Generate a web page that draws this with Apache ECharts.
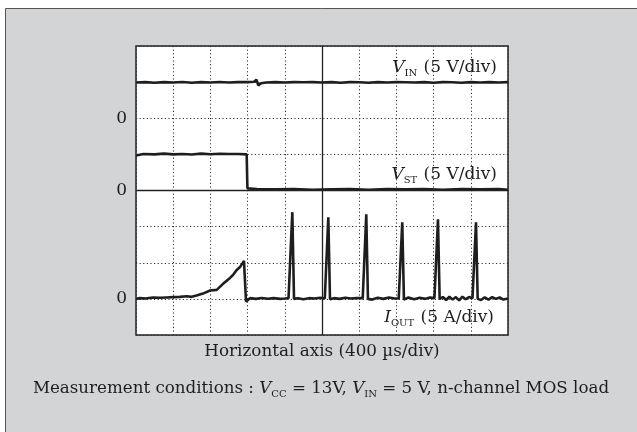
<!DOCTYPE html>
<html>
<head>
<meta charset="utf-8">
<script src="https://cdn.jsdelivr.net/npm/echarts@6/dist/echarts.min.js"></script>
<style>
html,body{margin:0;padding:0;background:#fff;}
#c{width:637px;height:432px;}
</style>
</head>
<body>
<div id="c"></div>
<script>
// Time axis (µs), 400 µs/div, 10 divisions
const timeTicks = [0, 400, 800, 1200, 1600, 2000, 2400, 2800, 3200, 3600, 4000];

// V_IN (V)
const vinT = [0, 100, 200, 300, 400, 500, 600, 700, 800, 900, 1000, 1100, 1200, 1270, 1295, 1315, 1345, 1400, 1500, 1600, 1700, 1800, 1900, 2000, 2100, 2200, 2300, 2400, 2500, 2600, 2700, 2800, 2900, 3000, 3100, 3200, 3300, 3400, 3500, 3600, 3700, 3800, 3900, 4000];
const vinV = [4.95, 5.0, 4.92, 5.0, 4.95, 5.02, 4.92, 5.0, 4.95, 5.02, 4.95, 5.0, 5.0, 5.05, 5.35, 4.55, 4.85, 4.95, 5.0, 4.95, 5.0, 4.98, 5.0, 4.95, 5.0, 4.92, 5.0, 4.98, 4.92, 5.0, 4.95, 5.0, 4.98, 4.95, 5.0, 4.92, 5.0, 4.98, 4.92, 5.0, 4.95, 5.0, 4.95, 5.0];

// V_ST (V)
const vstT = [0, 80, 200, 300, 400, 500, 600, 700, 800, 900, 1000, 1100, 1190, 1198, 1210, 1300, 1500, 1700, 1900, 2100, 2300, 2500, 2700, 2900, 3100, 3300, 3500, 3700, 3900, 4000];
const vstV = [4.85, 5.05, 5.0, 5.1, 5.0, 5.05, 4.98, 5.1, 5.02, 5.08, 5.05, 5.05, 5.0, 0.3, 0.15, 0.2, 0.15, 0.2, 0.1, 0.15, 0.2, 0.1, 0.2, 0.15, 0.2, 0.1, 0.2, 0.15, 0.2, 0.1];

// I_OUT (A)
const ioutT = [0, 43, 100, 183, 260, 330, 398, 470, 545, 599, 660, 720, 796, 868, 936, 1011, 1043, 1083, 1118, 1161, 1183, 1226, 1290, 1350, 1420, 1480, 1550, 1600, 1640, 1681, 1699, 1740, 1800, 1860, 1920, 1980, 2030, 2068, 2086, 2130, 2190, 2250, 2310, 2370, 2438, 2476, 2494, 2540, 2600, 2660, 2720, 2780, 2825, 2863, 2881, 2930, 2990, 3050, 3110, 3160, 3209, 3247, 3265, 3300, 3335, 3370, 3405, 3440, 3475, 3510, 3545, 3580, 3618, 3656, 3674, 3710, 3750, 3790, 3830, 3870, 3910, 3950, 4000];
const ioutV = [0.0, 0.1, 0.05, 0.18, 0.15, 0.2, 0.24, 0.28, 0.37, 0.28, 0.5, 0.73, 1.15, 1.25, 2.08, 2.9, 3.3, 4.0, 4.4, 5.26, -0.37, 0.1, 0.0, 0.12, 0.02, 0.1, 0.0, 0.05, 0.1, 12.0, 0.0, 0.1, -0.05, 0.1, 0.05, 0.15, 0.05, 11.3, -0.05, 0.1, 0.0, 0.15, 0.05, 0.1, 0.1, 11.7, 0.0, -0.1, 0.15, 0.0, 0.2, 0.05, 0.05, 10.6, -0.1, 0.2, -0.05, 0.15, 0.0, 0.2, 0.1, 11.0, 0.0, 0.25, -0.15, 0.3, -0.1, 0.25, -0.2, 0.3, -0.05, 0.25, 0.1, 10.6, 0.0, -0.15, 0.2, -0.1, 0.25, 0.0, 0.2, -0.1, 0.05];

const serif = 'DejaVu Serif';
const ink = '#1e1e1e';

function pairs(t, v) { return t.map((x, i) => [x, v[i]]); }

const chart = echarts.init(document.getElementById('c'), null, {renderer: 'canvas'});

function zeroOnly(v) { return v === 0 ? '0' : ''; }

function label(text, sub, rest, x, y) {
  return {
    type: 'text', x: x, y: y, z: 100,
    style: {
      text: '{v|' + text + '}{s|' + sub + '}{n|' + rest + '}',
      align: 'right', verticalAlign: 'middle',
      fill: ink,
      rich: {
        v: {fontFamily: serif, fontSize: 17, fontStyle: 'italic', fill: ink, lineHeight: 20},
        s: {fontFamily: serif, fontSize: 10, fill: ink, verticalAlign: 'bottom', lineHeight: 12, padding: [0, 1, 0, 0]},
        n: {fontFamily: serif, fontSize: 17, fill: ink, lineHeight: 20}
      }
    }
  };
}

const lineStyle = {color: ink, width: 2.6};

chart.setOption({
  animation: false,
  backgroundColor: '#ffffff',
  graphic: [
    {type: 'rect', z: -10, shape: {x: 5.5, y: 8.5, width: 640, height: 430},
     style: {fill: '#d3d4d6', stroke: '#555', lineWidth: 1}},
    label('V', 'IN', ' (5 V/div)', 497, 68),
    label('V', 'ST', ' (5 V/div)', 497, 175),
    label('I', 'OUT', ' (5 A/div)', 494, 318),
    {type: 'text', x: 322, y: 352, z: 100,
     style: {text: 'Horizontal axis (400 µs/div)', font: '16.8px "DejaVu Serif"', fill: ink, align: 'center', verticalAlign: 'middle'}},
    {type: 'text', x: 321, y: 389, z: 100,
     style: {text: 'Measurement conditions : {v|V}{s|CC}{n| = 13V, }{v|V}{s|IN}{n| = 5 V, n-channel MOS load}',
       align: 'center', verticalAlign: 'middle', fill: ink,
       rich: {
         v: {fontFamily: serif, fontSize: 16.7, fontStyle: 'italic', fill: ink, lineHeight: 20},
         s: {fontFamily: serif, fontSize: 10, fill: ink, verticalAlign: 'bottom', lineHeight: 12},
         n: {fontFamily: serif, fontSize: 16.7, fill: ink, lineHeight: 20}
       },
       fontFamily: serif, fontSize: 16.7}}
  ],
  grid: {left: 136, top: 46, width: 372, height: 289, show: true,
         backgroundColor: '#ffffff', borderColor: '#222', borderWidth: 1.5, z: 0},
  xAxis: {
    type: 'value', min: timeTicks[0], max: timeTicks[timeTicks.length - 1], interval: 400,
    axisLine: {show: false}, axisTick: {show: false}, axisLabel: {show: false},
    splitLine: {show: true, lineStyle: {color: '#333', width: 1, type: [1.2, 2.4]}}
  },
  yAxis: [
    {type: 'value', min: -30, max: 10, interval: 5, position: 'left',
     axisLine: {show: false}, axisTick: {show: false}, splitLine: {show: false},
     axisLabel: {formatter: zeroOnly, fontFamily: serif, fontSize: 17, color: ink, margin: 9}},
    {type: 'value', min: -20, max: 20, interval: 5, position: 'left',
     axisLine: {show: false}, axisTick: {show: false},
     splitLine: {show: true, lineStyle: {color: '#333', width: 1, type: [1.2, 2.4]}},
     axisLabel: {formatter: zeroOnly, fontFamily: serif, fontSize: 17, color: ink, margin: 9}},
    {type: 'value', min: -5, max: 35, interval: 5, position: 'left',
     axisLine: {show: false}, axisTick: {show: false}, splitLine: {show: false},
     axisLabel: {formatter: zeroOnly, fontFamily: serif, fontSize: 17, color: ink, margin: 9}}
  ],
  series: [
    {name: 'VST', type: 'line', yAxisIndex: 1, data: pairs(vstT, vstV), showSymbol: false,
     lineStyle: lineStyle, z: 3,
     markLine: {silent: true, symbol: 'none', label: {show: false}, animation: false,
       lineStyle: {color: '#222', width: 1.3, type: 'solid'},
       data: [{xAxis: 2000}, {yAxis: 0}]}},
    {name: 'VIN', type: 'line', yAxisIndex: 0, data: pairs(vinT, vinV), showSymbol: false,
     lineStyle: lineStyle, z: 3},
    {name: 'IOUT', type: 'line', yAxisIndex: 2, data: pairs(ioutT, ioutV), showSymbol: false,
     lineStyle: lineStyle, z: 3}
  ]
});
</script>
</body>
</html>
